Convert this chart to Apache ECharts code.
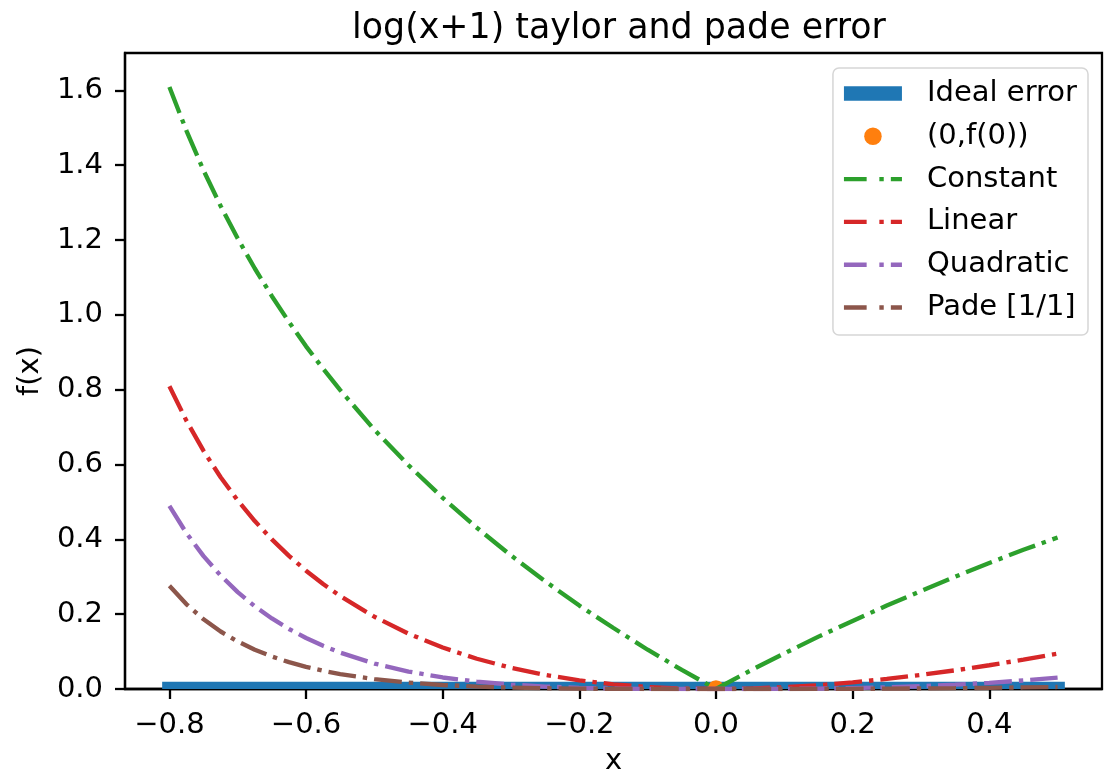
<!DOCTYPE html>
<html>
<head>
<meta charset="utf-8">
<script src="https://cdn.jsdelivr.net/npm/echarts@6/dist/echarts.min.js"></script>
<style>
  html, body { margin: 0; padding: 0; background: #fff; }
  #chart { width: 1104px; height: 773px; }
</style>
</head>
<body>
<div id="chart"></div>
<script>
// Sample points along x (denser on the steep left end)
const xs = [-0.800, -0.775, -0.750, -0.725, -0.700, -0.675, -0.650, -0.625, -0.600, -0.575, -0.55, -0.50, -0.45,
            -0.40, -0.35, -0.30, -0.25, -0.20, -0.15, -0.10, -0.05, 0.00, 0.05, 0.10, 0.15, 0.20, 0.25, 0.30,
            0.35, 0.40, 0.45, 0.50];

// Absolute error of each approximation of log(x+1)
const constantErr = [1.609, 1.492, 1.386, 1.291, 1.204, 1.124, 1.050, 0.981, 0.916, 0.856, 0.799, 0.693, 0.598,
                     0.511, 0.431, 0.357, 0.288, 0.223, 0.163, 0.105, 0.051, 0.000, 0.049, 0.095, 0.140, 0.182, 0.223, 0.262,
                     0.300, 0.337, 0.372, 0.405];
const linearErr = [0.8094, 0.7167, 0.6363, 0.5660, 0.5040, 0.4489, 0.3998, 0.3558, 0.3163, 0.2807, 0.2485, 0.1931, 0.1478,
                   0.1108, 0.0808, 0.0567, 0.0377, 0.0231, 0.0125, 0.0054, 0.0013, 0.0000, 0.0012, 0.0047, 0.0102, 0.0177, 0.0269, 0.0376,
                   0.0499, 0.0635, 0.0784, 0.0945];
const quadraticErr = [0.4894, 0.4164, 0.3551, 0.3032, 0.2590, 0.2211, 0.1886, 0.1605, 0.1363, 0.1154, 0.0973, 0.0681, 0.0466,
                      0.0308, 0.0196, 0.0117, 0.0064, 0.0031, 0.0012, 0.0004, 0.0000, 0.0000, 0.0000, 0.0003, 0.0010, 0.0023, 0.0044, 0.0074,
                      0.0115, 0.0165, 0.0228, 0.0305];
const padeErr = [0.2761, 0.2264, 0.1863, 0.1537, 0.1270, 0.1050, 0.0869, 0.0717, 0.0591, 0.0487, 0.0399, 0.0265, 0.0172,
                 0.0108, 0.0065, 0.0037, 0.0020, 0.0009, 0.0004, 0.0001, 0.0000, 0.0000, 0.0000, 0.0001, 0.0002, 0.0005, 0.0009, 0.0015,
                 0.0022, 0.0031, 0.0042, 0.0055];

// Ideal error: zero over the whole range [xStart, xEnd, y]
const idealSegment = [[-0.8, 0.5, 0]];
// Expansion point (0, f(0))
const expansionPoint = [[0, 0]];

// Axis ticks
const xTicks = [-0.8, -0.6, -0.4, -0.2, 0.0, 0.2, 0.4];
const yTicks = [0.0, 0.2, 0.4, 0.6, 0.8, 1.0, 1.2, 1.4, 1.6];

const FONT = 'DejaVu Sans';
const FS = 29;
const COLORS = ['#1f77b4', '#ff7f0e', '#2ca02c', '#d62728', '#9467bd', '#8c564b'];
const DASHDOT = [27.8, 7.0, 4.4, 7.0];
const LW = 4.35;

// Legend handles: a thick bar, and a dash-dot stroke built from filled pieces
const BAR_ICON = 'path://M0,0h58v14.5h-58z';
const DASHDOT_ICON = 'path://M0,0h22.7v4.35h-22.7z M35.4,0h4.4v4.35h-4.4z M46.9,0h11.1v4.35h-11.1z';

const pairs = (ys) => xs.map((x, i) => [x, ys[i]]);

function lineSeries(name, ys, color) {
  return {
    name: name,
    type: 'line',
    data: pairs(ys),
    symbol: 'none',
    showSymbol: false,
    color: color,
    itemStyle: { color: color },
    lineStyle: { color: color, width: LW, type: DASHDOT, cap: 'butt' },
    animation: false,
    z: 4
  };
}

const chart = echarts.init(document.getElementById('chart'), null, { renderer: 'canvas' });

chart.setOption({
  animation: false,
  backgroundColor: '#ffffff',
  textStyle: { fontFamily: FONT, color: '#000' },
  title: {
    text: 'log(x+1) taylor and pade error',
    left: 614,
    textAlign: 'center',
    top: 6,
    textStyle: { fontFamily: FONT, fontSize: 34.8, fontWeight: 'normal', color: '#000' }
  },
  grid: {
    left: 125, right: 2, top: 53, bottom: 84,
    outerBoundsMode: 'none',
    containLabel: false,
    show: true, borderColor: '#000', borderWidth: 2.3, backgroundColor: 'transparent'
  },
  legend: {
    orient: 'vertical',
    right: 16,
    top: 68,
    align: 'left',
    padding: [11, 11, 13, 11],
    itemWidth: 58,
    itemHeight: 17.5,
    itemGap: 13.8,
    symbolKeepAspect: true,
    backgroundColor: '#ffffff',
    borderColor: '#d6d6d6',
    borderWidth: 1.5,
    borderRadius: 6,
    textStyle: { fontFamily: FONT, fontSize: FS, color: '#000', lineHeight: 29, padding: [0, 0, 0, 20] },
    data: [
      { name: 'Ideal error', icon: BAR_ICON, itemStyle: { color: COLORS[0] } },
      { name: '(0,f(0))', icon: 'circle', itemStyle: { color: COLORS[1] } },
      { name: 'Constant', icon: DASHDOT_ICON, itemStyle: { color: COLORS[2] } },
      { name: 'Linear', icon: DASHDOT_ICON, itemStyle: { color: COLORS[3] } },
      { name: 'Quadratic', icon: DASHDOT_ICON, itemStyle: { color: COLORS[4] } },
      { name: 'Pade [1/1]', icon: DASHDOT_ICON, itemStyle: { color: COLORS[5] } }
    ]
  },
  xAxis: {
    type: 'value',
    min: -0.865,
    max: 0.565,
    name: 'x',
    nameLocation: 'middle',
    nameGap: 58,
    nameTextStyle: { fontFamily: FONT, fontSize: FS, color: '#000' },
    axisLine: { show: true, onZero: false, lineStyle: { color: '#000', width: 2.3 } },
    axisTick: { show: true, length: 10, lineStyle: { color: '#000', width: 2.3 }, customValues: xTicks },
    axisLabel: {
      show: true, margin: 22, fontFamily: FONT, fontSize: FS, color: '#000',
      customValues: xTicks,
      formatter: (v) => v.toFixed(1).replace('-', '\u2212')
    },
    splitLine: { show: false }
  },
  yAxis: {
    type: 'value',
    min: 0,
    max: 1.70,
    name: 'f(x)',
    nameLocation: 'middle',
    nameRotate: 90,
    nameGap: 80,
    nameTextStyle: { fontFamily: FONT, fontSize: FS, color: '#000' },
    axisLine: { show: true, onZero: false, lineStyle: { color: '#000', width: 2.3 } },
    axisTick: { show: true, length: 10, lineStyle: { color: '#000', width: 2.3 }, customValues: yTicks },
    axisLabel: {
      show: true, margin: 22, fontFamily: FONT, fontSize: FS, color: '#000',
      customValues: yTicks,
      formatter: (v) => v.toFixed(1)
    },
    splitLine: { show: false }
  },
  series: [
    {
      name: 'Ideal error',
      type: 'custom',
      clip: true,
      data: idealSegment,
      encode: { x: [0, 1], y: 2 },
      itemStyle: { color: COLORS[0] },
      z: 2,
      renderItem: function (params, api) {
        const p0 = api.coord([api.value(0), api.value(2)]);
        const p1 = api.coord([api.value(1), api.value(2)]);
        return {
          type: 'line',
          shape: { x1: p0[0], y1: p0[1], x2: p1[0], y2: p1[1] },
          style: { stroke: COLORS[0], lineWidth: 14.5, lineCap: 'square' }
        };
      }
    },
    {
      name: '(0,f(0))',
      type: 'custom',
      clip: true,
      data: expansionPoint,
      encode: { x: 0, y: 1 },
      itemStyle: { color: COLORS[1] },
      z: 3,
      renderItem: function (params, api) {
        const p = api.coord([api.value(0), api.value(1)]);
        return {
          type: 'circle',
          shape: { cx: p[0], cy: p[1], r: 8.7 },
          style: { fill: COLORS[1] }
        };
      }
    },
    lineSeries('Constant', constantErr, COLORS[2]),
    lineSeries('Linear', linearErr, COLORS[3]),
    lineSeries('Quadratic', quadraticErr, COLORS[4]),
    lineSeries('Pade [1/1]', padeErr, COLORS[5])
  ]
});
</script>
</body>
</html>
